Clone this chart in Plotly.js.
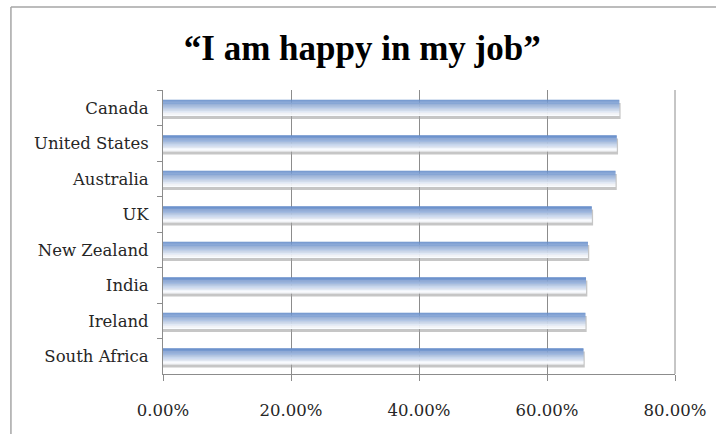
<!DOCTYPE html>
<html>
<head>
<meta charset="utf-8">
<script src="https://cdn.plot.ly/plotly-3.0.1.min.js"></script>
<style>html,body{margin:0;padding:0;background:#fff;}#chart{width:716px;height:434px;}</style>
</head>
<body>
<div id="chart"></div>
<script>
// Data
const countries = ["Canada", "United States", "Australia", "UK", "New Zealand", "India", "Ireland", "South Africa"];
const happyShare = [0.713, 0.709, 0.707, 0.670, 0.664, 0.661, 0.660, 0.657];
const xTickValues = [0, 0.2, 0.4, 0.6, 0.8];
const xTickLabels = ["0.00%", "20.00%", "40.00%", "60.00%", "80.00%"];
const chartTitle = "\u201cI am happy in my job\u201d";

// Styling: vertical gradient of each bar approximated by stacked bands
const barWidth = 0.45;
const topColor = [98, 138, 200];
const bottomColor = [250, 252, 255];
const nBands = 20;

const traces = [];
// soft shadow under each bar
traces.push({
  type: "bar", orientation: "h", x: happyShare.map(v => v + 0.002), y: countries,
  offset: -barWidth / 2 + 0.09, width: barWidth,
  marker: {color: "rgba(160,160,160,0.6)", line: {width: 0}},
  hoverinfo: "skip", showlegend: false
});
for (let i = 0; i < nBands; i++) {
  const t = i / (nBands - 1);
  const c = topColor.map((v, k) => Math.round(v + (bottomColor[k] - v) * Math.min(1, t * 1.1)));
  const bw = barWidth / nBands;
  traces.push({
    type: "bar", orientation: "h", x: happyShare, y: countries,
    offset: -barWidth / 2 + i * bw, width: bw * 1.3,
    marker: {color: `rgb(${c[0]},${c[1]},${c[2]})`, line: {width: 0}},
    hoverinfo: "skip", showlegend: false
  });
}

const layout = {
  width: 716, height: 434,
  margin: {l: 163, r: 41, t: 90, b: 60, pad: 0},
  paper_bgcolor: "#ffffff", plot_bgcolor: "#ffffff",
  barmode: "overlay",
  showlegend: false,
  title: {
    text: chartTitle,
    font: {family: "Liberation Serif", size: 35, color: "#000000", weight: "bold"},
    x: 0.506, xanchor: "center", xref: "container",
    y: 0.89, yanchor: "middle", yref: "container"
  },
  xaxis: {
    range: [0, 0.8], tickvals: xTickValues, ticktext: xTickLabels,
    showgrid: true, gridcolor: "#8c8c8c", gridwidth: 1,
    showline: true, linecolor: "#8c8c8c", linewidth: 1,
    ticks: "outside", ticklen: 6, tickcolor: "#8c8c8c",
    ticklabelstandoff: 15,
    tickfont: {family: "DejaVu Serif", size: 16.5, color: "#262626"},
    zeroline: false, fixedrange: true
  },
  yaxis: {
    type: "category", autorange: "reversed",
    showline: true, linecolor: "#8c8c8c", linewidth: 1,
    ticks: "outside", ticklen: 5, tickcolor: "#8c8c8c", tickson: "boundaries",
    ticklabelstandoff: 10,
    tickfont: {family: "DejaVu Serif", size: 16.5, color: "#262626"},
    showgrid: false, zeroline: false, fixedrange: true
  },
  shapes: [
    {type: "line", xref: "paper", yref: "paper", x0: -0.297, x1: -0.297, y0: -0.3, y1: 1.292,
     line: {color: "#a6a6a6", width: 1.5}},
    {type: "line", xref: "paper", yref: "paper", x0: -0.297, x1: 1.2, y0: 1.292, y1: 1.292,
     line: {color: "#a6a6a6", width: 1.5}},
    {type: "line", xref: "paper", yref: "paper", x0: 1, x1: 1, y0: 0, y1: 1,
     line: {color: "#8c8c8c", width: 1}}
  ]
};

Plotly.newPlot("chart", traces, layout, {displayModeBar: false, staticPlot: true});
</script>
</body>
</html>
